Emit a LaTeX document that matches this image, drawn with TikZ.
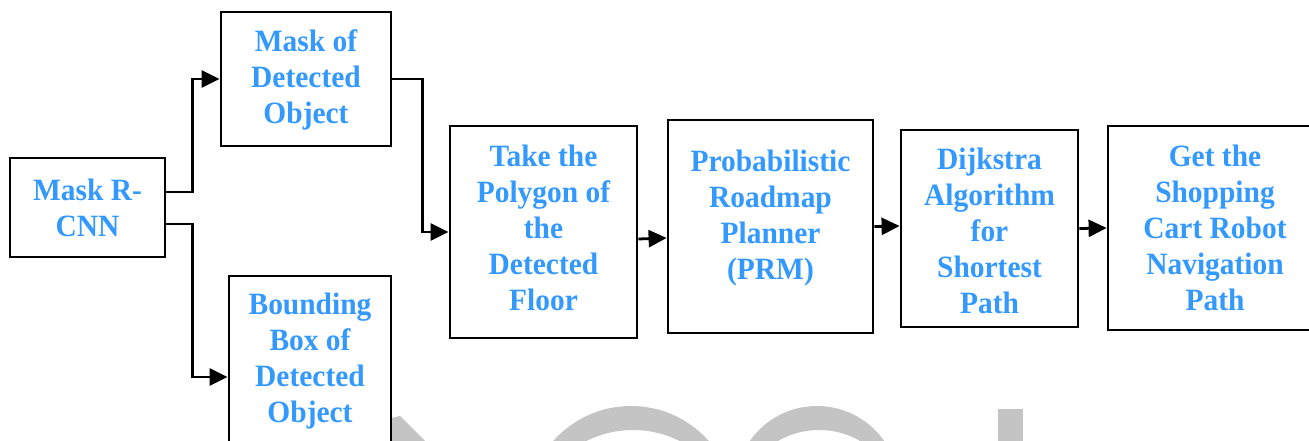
\documentclass[tikz,border=0pt]{standalone}
\usepackage{fontspec}
\setmainfont{Liberation Serif}[FakeStretch=0.95]
\usetikzlibrary{arrows.meta}
\definecolor{txtblue}{HTML}{3399FF}
\definecolor{wmgray}{HTML}{C4C4C4}
\newcommand{\boxtxt}[2]{\raisebox{#1}[\height][\depth]{\begin{tabular}{@{}c@{}}#2\end{tabular}}}
\tikzset{
  blk/.style={draw, line width=2.8pt, inner sep=0pt, text=txtblue,
    font=\bfseries\fontsize{31}{36}\selectfont, anchor=center},
  conn/.style={line width=2.8pt, -{Triangle[length=18pt,width=17pt]}},
}
\begin{document}
\begin{tikzpicture}[x=1pt,y=-1pt]
\useasboundingbox (0,0) rectangle (1309,441);
\clip (0,0) rectangle (1309,441);
% watermark
\fill[wmgray, even odd rule] (631,510) circle[radius=104] (633,534) circle[radius=104];
\fill[wmgray, even odd rule] (817,488) circle[radius=82] (819,512) circle[radius=82];
\fill[wmgray] (998,409) rectangle (1023,445);
\fill[wmgray] (391,418) -- (400,416) -- (429,445) -- (391,445) -- cycle;
% blocks
\node[blk, minimum width=155pt, minimum height=99pt] (mrcnn) at (87.5,207.5)
  {\boxtxt{-4pt}{Mask R-\\CNN}};
\node[blk, fill=white, minimum width=170pt, minimum height=134pt] (mask) at (306,79)
  {\boxtxt{-1pt}{Mask of\\Detected\\Object}};
\node[blk, fill=white, minimum width=162pt, minimum height=184pt] (bbox) at (310,368)
  {\boxtxt{7pt}{Bounding\\Box of\\Detected\\Object}};
\node[blk, fill=white, minimum width=187pt, minimum height=212pt] (poly) at (543.5,232)
  {\boxtxt{0.5pt}{Take the\\Polygon of\\the\\Detected\\Floor}};
\node[blk, fill=white, minimum width=205pt, minimum height=213pt] (prm) at (770.5,226.5)
  {\boxtxt{8.5pt}{Probabilistic\\Roadmap\\Planner\\(PRM)}};
\node[blk, fill=white, minimum width=177pt, minimum height=197pt] (dij) at (989.5,228.5)
  {\boxtxt{-6pt}{Dijkstra\\Algorithm\\for\\Shortest\\Path}};
\node[blk, fill=white, minimum width=214pt, minimum height=204pt] (get) at (1215,228)
  {\boxtxt{-3pt}{Get the\\Shopping\\Cart Robot\\Navigation\\Path}};
% connectors
\draw[conn] ([yshift=15.5pt]mrcnn.east) -- ++(26,0) |- (mask.west);
\draw[conn] ([yshift=-16.5pt]mrcnn.east) -- ++(26,0) |- ([yshift=-9pt]bbox.west);
\draw[conn] (mask.east) -- ++(30,0) |- (poly.west);
\draw[conn] ([yshift=-7pt]poly.east) -- ([yshift=-11.5pt]prm.west);
\draw[conn] (prm.east) -- ([yshift=2.5pt]dij.west);
\draw[conn] (dij.east) -- (get.west);
\end{tikzpicture}
\end{document}
